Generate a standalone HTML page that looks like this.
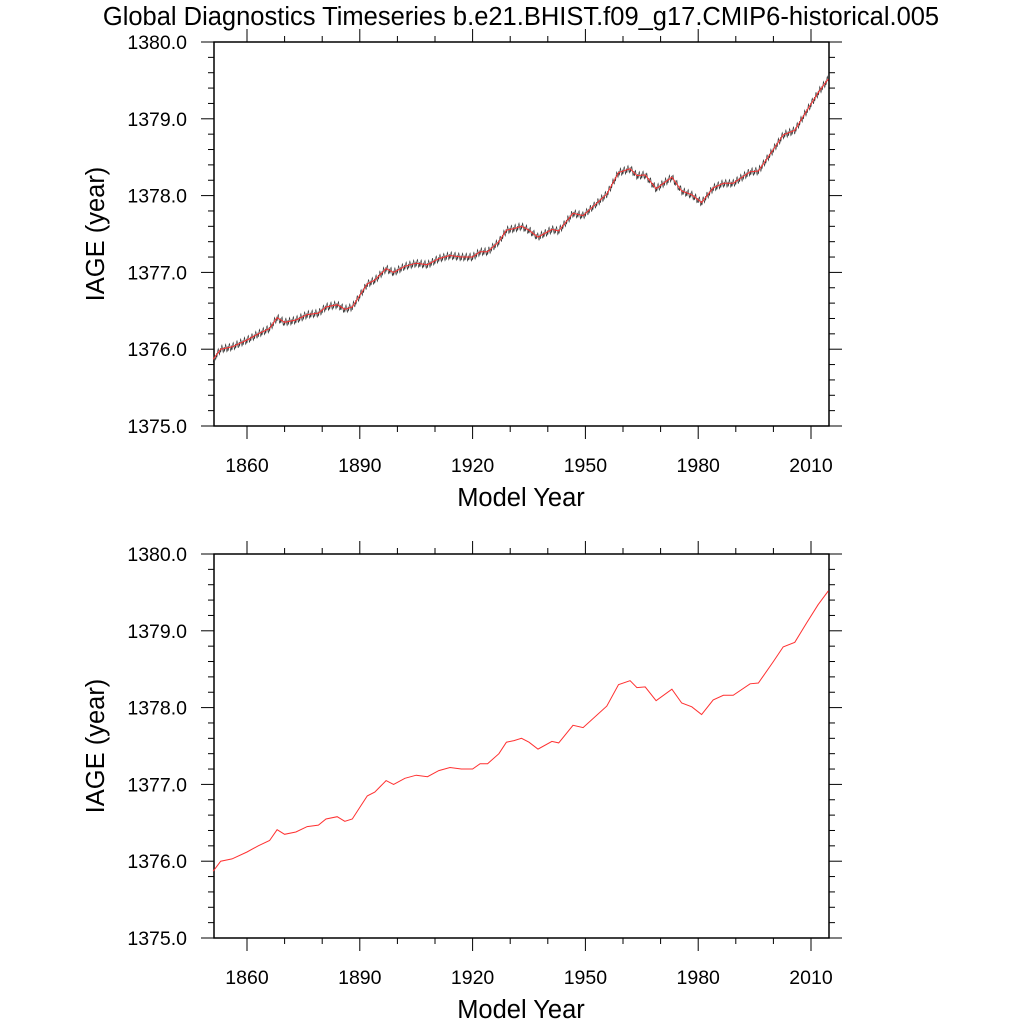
<!DOCTYPE html>
<html><head><meta charset="utf-8"><style>
body{margin:0;background:#fff;}
svg text{font-family:"Liberation Sans",Arial,sans-serif;fill:#000;}
</style></head><body>
<svg id="c" width="1024" height="1024" viewBox="0 0 1024 1024" xmlns="http://www.w3.org/2000/svg">
<text x="521" y="25" font-size="25.5" text-anchor="middle">Global Diagnostics Timeseries b.e21.BHIST.f09_g17.CMIP6-historical.005</text>
</svg>
<script>
const years=[1851,1853,1856,1860,1863,1866,1868,1870,1873,1876,1879,1881,1884,1886,1888,1890,1892,1894,1897,1899,1902,1905,1908,1911,1914,1917,1920,1922,1924,1927,1929,1931,1933,1935,1937.4,1941.1,1942.9,1946.7,1949.4,1955.7,1958.8,1961.9,1963.7,1965.9,1968.8,1973,1975.6,1978.3,1980.9,1984,1986.7,1989.3,1993.8,1996,2000,2002.6,2005.7,2008.8,2011.9,2014.6];
const iage=[1375.87,1376.0,1376.03,1376.12,1376.2,1376.27,1376.41,1376.35,1376.38,1376.45,1376.47,1376.55,1376.58,1376.52,1376.55,1376.7,1376.85,1376.9,1377.05,1377.0,1377.08,1377.12,1377.1,1377.18,1377.22,1377.2,1377.2,1377.27,1377.27,1377.4,1377.55,1377.57,1377.6,1377.55,1377.46,1377.56,1377.54,1377.77,1377.74,1378.02,1378.3,1378.35,1378.26,1378.27,1378.09,1378.24,1378.06,1378.01,1377.91,1378.1,1378.16,1378.16,1378.31,1378.32,1378.6,1378.79,1378.85,1379.1,1379.34,1379.52];
const seasonal=[-0.04,-0.02,0.01,0.04,0.05,0.03,0.0,-0.03,-0.05,-0.04,-0.01,0.02];
const yTicks=[1375,1376,1377,1378,1379,1380];
const xTicks=[1860,1890,1920,1950,1980,2010];

const svg=document.getElementById('c');
const NS='http://www.w3.org/2000/svg';
const L=214,R=829;
const xs=y=>247+(y-1860)*3.76;
function mk(t,a){const e=document.createElementNS(NS,t);for(const k in a)e.setAttribute(k,a[k]);svg.appendChild(e);return e;}
function interp(t){
  if(t<=years[0])return iage[0];
  for(let i=1;i<years.length;i++){if(t<=years[i]){const f=(t-years[i-1])/(years[i]-years[i-1]);return iage[i-1]+f*(iage[i]-iage[i-1]);}}
  return iage[iage.length-1];
}
function panel(T,B,idx,monthly){
  const ys=v=>B-(v-1375)*(B-T)/5;
  let e;
  e=mk('rect',{x:L,y:T,width:R-L,height:B-T,fill:'none',stroke:'#000','stroke-width':1.5});
  
  
  for(let v=1375;v<=1380.001;v+=0.2){
    const maj=Math.abs(v-Math.round(v))<1e-6;const y=ys(v);const len=maj?13:6;
    e=mk('line',{x1:L-len,y1:y,x2:L,y2:y,stroke:'#000','stroke-width':1});
    
    
    e=mk('line',{x1:R,y1:y,x2:R+len,y2:y,stroke:'#000','stroke-width':1});
    
    
  }
  yTicks.forEach(v=>{
    e=mk('text',{x:L-27,y:ys(v)+7,'font-size':19.5,'text-anchor':'end'});e.textContent=v.toFixed(1);
    
    
  });
  for(let yr=1860;yr<=2010;yr+=10){
    const maj=(yr-1860)%30===0;const len=maj?13:6;const x=xs(yr);
    e=mk('line',{x1:x,y1:B,x2:x,y2:B+len,stroke:'#000','stroke-width':1});
    
    
    e=mk('line',{x1:x,y1:T-len,x2:x,y2:T,stroke:'#000','stroke-width':1});
    
    
  }
  xTicks.forEach(v=>{
    e=mk('text',{x:xs(v),y:B+46,'font-size':19.5,'text-anchor':'middle'});e.textContent=v;
    
    
  });
  e=mk('text',{x:521,y:B+80,'font-size':25.5,'text-anchor':'middle'});e.textContent='Model Year';
  
  
  const cy=(T+B)/2;
  e=mk('text',{x:104,y:cy,'font-size':25.5,'text-anchor':'middle',transform:'rotate(-90 104 '+cy+')'});e.textContent='IAGE (year)';
  
  
  if(monthly){
    let d='';
    for(let t=years[0];t<=years[years.length-1];t+=1/12){
      const m=Math.round((t-Math.floor(t))*12)%12;
      const v=interp(t)+seasonal[m];
      d+=(d?'L':'M')+xs(t).toFixed(1)+' '+ys(v).toFixed(1);
    }
    e=mk('path',{d:d,fill:'none',stroke:'#333','stroke-width':0.6});
    
    
  }
  let d2='';
  years.forEach((y,i)=>{d2+=(i?'L':'M')+xs(y).toFixed(1)+' '+ys(iage[i]).toFixed(1);});
  e=mk('path',{d:d2,fill:'none',stroke:'#ff3030','stroke-width':1});
  
  
}
panel(42,426,'top',true);
panel(554,938,'bottom',false);
</script>
</body></html>
